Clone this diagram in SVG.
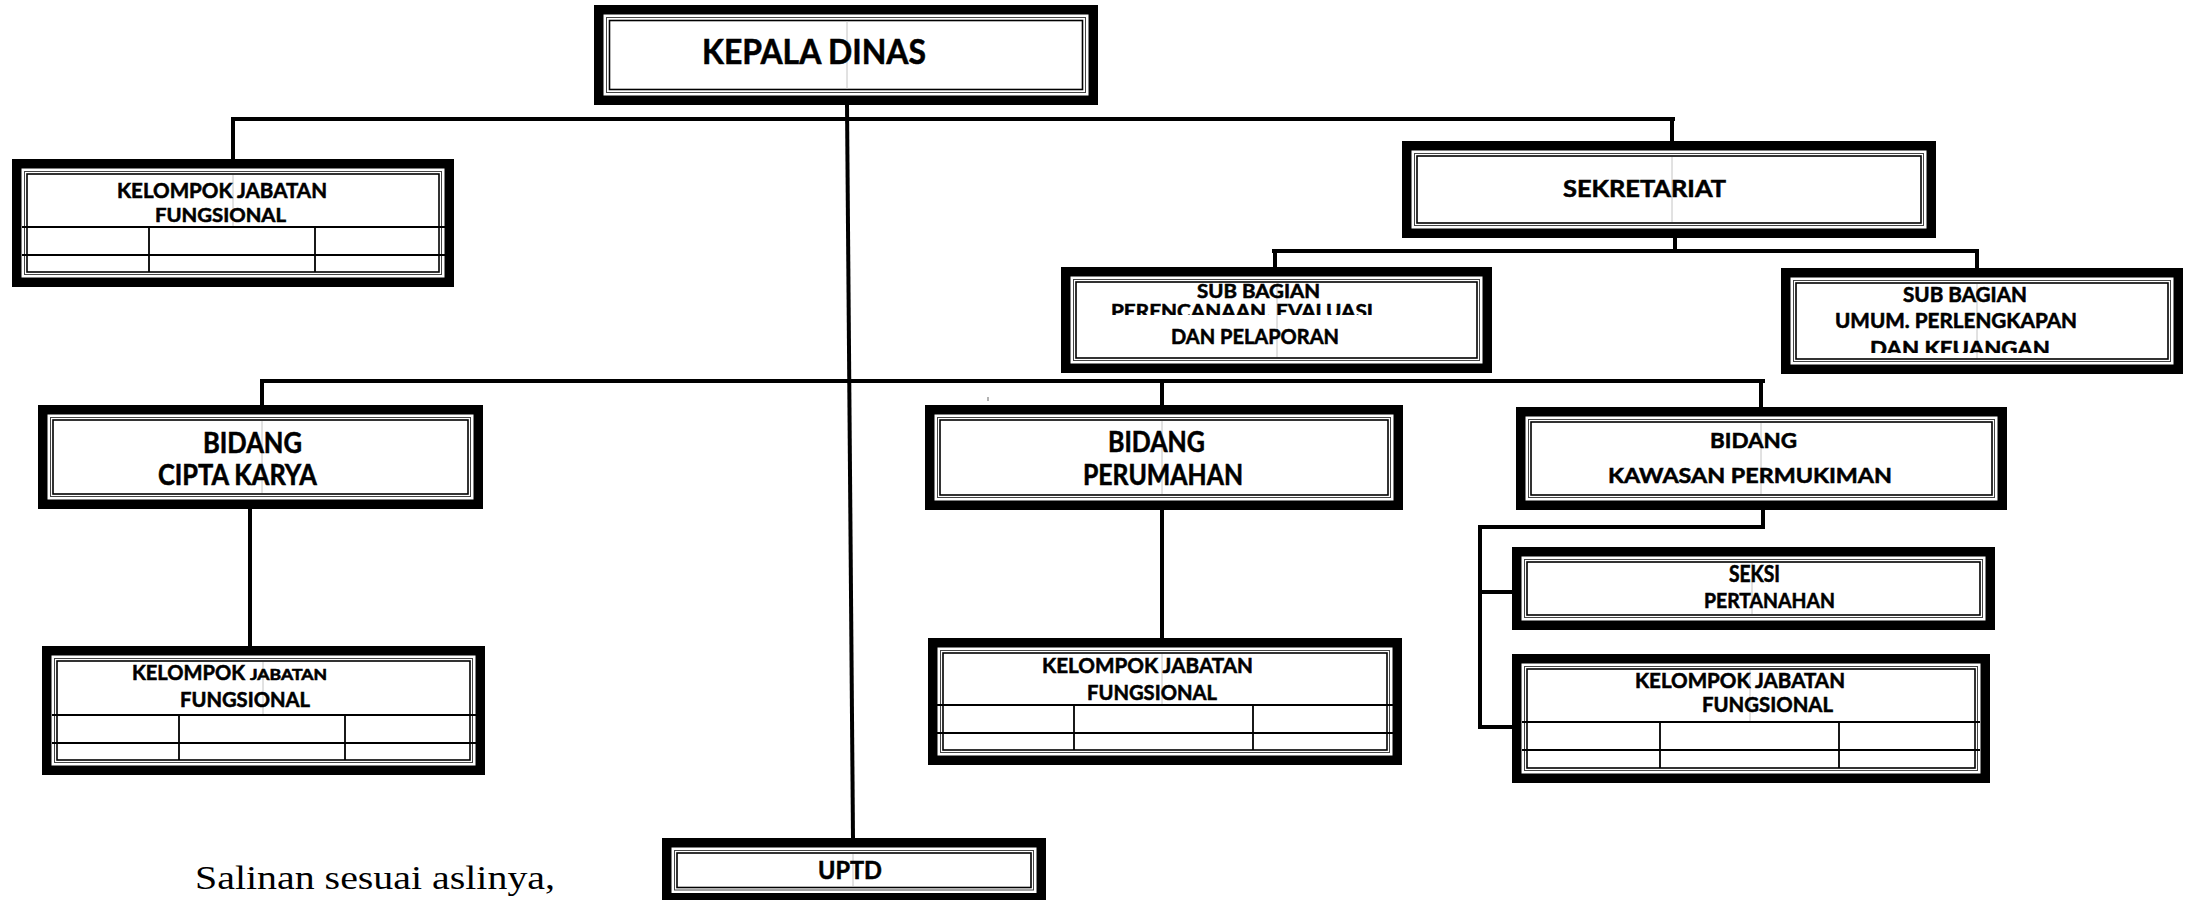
<svg xmlns="http://www.w3.org/2000/svg" width="2186" height="900" viewBox="0 0 2186 900">
<style>
.outer{fill:#fff;stroke:#000;stroke-width:9.5}
.in1{fill:none;stroke:#444;stroke-width:1}
.in2{fill:none;stroke:#000;stroke-width:1.6}
.seam{stroke:#c4c4c4;stroke-width:1}
.tbl{stroke:#000;stroke-width:1.8}
.con{stroke:#000;stroke-width:4;fill:none}
.t{font-family:Lato,"Open Sans","Liberation Sans",sans-serif;font-weight:bold;fill:#000;stroke:#000;stroke-width:0.55;text-anchor:middle}
.s{font-family:"Liberation Serif","DejaVu Serif",serif;fill:#000}
</style>
<defs>
<clipPath id="clipPeren"><rect x="1061" y="267" width="431" height="48"/></clipPath>
<clipPath id="clipUmum"><rect x="1781" y="268" width="402" height="85"/></clipPath>
</defs>
<rect width="2186" height="900" fill="#fff"/>

<g id="connectors">
<line class="con" x1="231" y1="119" x2="1675" y2="119"/>
<line class="con" x1="233" y1="117" x2="233" y2="160" />
<line class="con" x1="1672" y1="117" x2="1672" y2="142"/>
<line class="con" x1="1675" y1="237" x2="1675" y2="252"/>
<line class="con" x1="1272" y1="251" x2="1979" y2="251"/>
<line class="con" x1="1275" y1="249" x2="1275" y2="268"/>
<line class="con" x1="1977" y1="249" x2="1977" y2="269"/>
<line class="con" x1="260" y1="381" x2="1765" y2="381"/>
<line class="con" x1="262" y1="379" x2="262" y2="406"/>
<line class="con" x1="1162" y1="379" x2="1162" y2="406"/>
<line class="con" x1="1761" y1="379" x2="1761" y2="408"/>
<line class="con" x1="847" y1="104" x2="853" y2="839" stroke-width="3.5"/>
<line class="con" x1="250" y1="508" x2="250" y2="647"/>
<line class="con" x1="1162" y1="509" x2="1162" y2="639"/>
<polyline class="con" points="1763,509 1763,527 1480,527 1480,727 1513,727"/>
<line class="con" x1="1480" y1="592" x2="1513" y2="592"/>
<line x1="988" y1="397" x2="988" y2="401" stroke="#999" stroke-width="1.5"/>
</g>

<g id="kepala-dinas">
<rect class="outer" x="598.75" y="9.75" width="494.5" height="90.5"/>
<rect class="in1" x="606.5" y="17.5" width="479" height="75"/>
<rect class="in2" x="609.5" y="20.5" width="473" height="69"/>
<line class="seam" x1="847" y1="21" x2="847" y2="89"/>
<text class="t" x="814" y="64" font-size="35" textLength="224" lengthAdjust="spacingAndGlyphs">KEPALA DINAS</text>
</g>

<g id="kjf-1">
<rect class="outer" x="16.75" y="163.75" width="432.5" height="118.5"/>
<rect class="in1" x="24.5" y="171.5" width="417" height="103"/>
<rect class="in2" x="27" y="174" width="412" height="98"/>
<line class="seam" x1="233" y1="175" x2="233" y2="227"/>
<line class="tbl" x1="22" y1="227" x2="446" y2="227"/>
<line class="tbl" x1="22" y1="255" x2="446" y2="255"/>
<line class="tbl" x1="149" y1="227" x2="149" y2="272"/>
<line class="tbl" x1="315" y1="227" x2="315" y2="272"/>
<text class="t" x="222" y="198" font-size="21" textLength="210" lengthAdjust="spacingAndGlyphs">KELOMPOK JABATAN</text>
<text class="t" x="220.5" y="222" font-size="19.5" textLength="131" lengthAdjust="spacingAndGlyphs">FUNGSIONAL</text>
</g>

<g id="sekretariat">
<rect class="outer" x="1406.75" y="145.75" width="524.5" height="87.5"/>
<rect class="in1" x="1414.5" y="153.5" width="509" height="72"/>
<rect class="in2" x="1417" y="156" width="504" height="67"/>
<line class="seam" x1="1672" y1="157" x2="1672" y2="222"/>
<text class="t" x="1644.5" y="197" font-size="23.5" textLength="163" lengthAdjust="spacingAndGlyphs">SEKRETARIAT</text>
</g>

<g id="sub-bagian-perencanaan">
<rect class="outer" x="1065.75" y="271.75" width="421.5" height="96.5"/>
<rect class="in1" x="1073.5" y="279.5" width="406" height="81"/>
<rect class="in2" x="1076" y="282" width="401" height="76"/>
<line class="seam" x1="1277" y1="283" x2="1277" y2="357"/>
<text class="t" x="1258.5" y="298" font-size="19" textLength="123" lengthAdjust="spacingAndGlyphs">SUB BAGIAN</text>
<text class="t" x="1242" y="318" font-size="19" textLength="262" lengthAdjust="spacingAndGlyphs" clip-path="url(#clipPeren)">PERENCANAAN. EVALUASI</text>
<text class="t" x="1255" y="344" font-size="21" textLength="168" lengthAdjust="spacingAndGlyphs">DAN PELAPORAN</text>
</g>

<g id="sub-bagian-umum">
<rect class="outer" x="1785.75" y="272.75" width="392.5" height="96.5"/>
<rect class="in1" x="1793.5" y="280.5" width="377" height="81"/>
<rect class="in2" x="1796" y="283" width="372" height="76"/>
<line class="seam" x1="1977" y1="284" x2="1977" y2="358"/>
<text class="t" x="1965" y="302" font-size="20" textLength="124" lengthAdjust="spacingAndGlyphs">SUB BAGIAN</text>
<text class="t" x="1956" y="328" font-size="20" textLength="242" lengthAdjust="spacingAndGlyphs">UMUM. PERLENGKAPAN</text>
<text class="t" x="1960" y="355.5" font-size="20" textLength="180" lengthAdjust="spacingAndGlyphs" clip-path="url(#clipUmum)">DAN KEUANGAN</text>
</g>

<g id="bidang-cipta-karya">
<rect class="outer" x="42.75" y="409.75" width="435.5" height="94.5"/>
<rect class="in1" x="50.5" y="417.5" width="420" height="79"/>
<rect class="in2" x="53" y="420" width="415" height="74"/>
<line class="seam" x1="262" y1="421" x2="262" y2="493"/>
<text class="t" x="252.5" y="453" font-size="28" textLength="99" lengthAdjust="spacingAndGlyphs">BIDANG</text>
<text class="t" x="237.5" y="485" font-size="28" textLength="159" lengthAdjust="spacingAndGlyphs">CIPTA KARYA</text>
</g>

<g id="bidang-perumahan">
<rect class="outer" x="929.75" y="409.75" width="468.5" height="95.5"/>
<rect class="in1" x="937.5" y="417.5" width="453" height="80"/>
<rect class="in2" x="940" y="420" width="448" height="75"/>
<line class="seam" x1="1162" y1="421" x2="1162" y2="494"/>
<text class="t" x="1156.5" y="452" font-size="28" textLength="97" lengthAdjust="spacingAndGlyphs">BIDANG</text>
<text class="t" x="1163" y="485" font-size="28" textLength="160" lengthAdjust="spacingAndGlyphs">PERUMAHAN</text>
</g>

<g id="bidang-kawasan-permukiman">
<rect class="outer" x="1520.75" y="411.75" width="481.5" height="93.5"/>
<rect class="in1" x="1528.5" y="419.5" width="466" height="78"/>
<rect class="in2" x="1531" y="422" width="461" height="73"/>
<line class="seam" x1="1761" y1="423" x2="1761" y2="494"/>
<text class="t" x="1753.5" y="448" font-size="21.5" textLength="87" lengthAdjust="spacingAndGlyphs">BIDANG</text>
<text class="t" x="1750" y="483" font-size="21.5" textLength="284" lengthAdjust="spacingAndGlyphs">KAWASAN PERMUKIMAN</text>
</g>

<g id="seksi-pertanahan">
<rect class="outer" x="1516.75" y="551.75" width="473.5" height="73.5"/>
<rect class="in1" x="1524.5" y="559.5" width="458" height="58"/>
<rect class="in2" x="1527" y="562" width="453" height="53"/>
<line class="seam" x1="1752" y1="563" x2="1752" y2="614"/>
<text class="t" x="1754.5" y="582" font-size="22" textLength="51" lengthAdjust="spacingAndGlyphs">SEKSI</text>
<text class="t" x="1769.5" y="608" font-size="21" textLength="131" lengthAdjust="spacingAndGlyphs">PERTANAHAN</text>
</g>

<g id="kjf-2">
<rect class="outer" x="46.75" y="650.75" width="433.5" height="119.5"/>
<rect class="in1" x="54.5" y="658.5" width="418" height="104"/>
<rect class="in2" x="57" y="661" width="413" height="99"/>
<line class="seam" x1="263" y1="662" x2="263" y2="715"/>
<line class="tbl" x1="52" y1="715" x2="477" y2="715"/>
<line class="tbl" x1="52" y1="743" x2="477" y2="743"/>
<line class="tbl" x1="179" y1="715" x2="179" y2="760"/>
<line class="tbl" x1="345" y1="715" x2="345" y2="760"/>
<text class="t" x="188.5" y="680" font-size="21" textLength="113" lengthAdjust="spacingAndGlyphs">KELOMPOK</text>
<text class="t" x="288.5" y="680" font-size="14.5" textLength="77" lengthAdjust="spacingAndGlyphs">JABATAN</text>
<text class="t" x="245" y="707" font-size="20" textLength="130" lengthAdjust="spacingAndGlyphs">FUNGSIONAL</text>
</g>

<g id="kjf-3">
<rect class="outer" x="932.75" y="642.75" width="464.5" height="117.5"/>
<rect class="in1" x="940.5" y="650.5" width="449" height="102"/>
<rect class="in2" x="943" y="653" width="444" height="97"/>
<line class="seam" x1="1162" y1="654" x2="1162" y2="705"/>
<line class="tbl" x1="937" y1="705" x2="1393" y2="705"/>
<line class="tbl" x1="937" y1="733" x2="1393" y2="733"/>
<line class="tbl" x1="1074" y1="705" x2="1074" y2="750"/>
<line class="tbl" x1="1253" y1="705" x2="1253" y2="750"/>
<text class="t" x="1147.5" y="673" font-size="21" textLength="211" lengthAdjust="spacingAndGlyphs">KELOMPOK JABATAN</text>
<text class="t" x="1152" y="700" font-size="21" textLength="130" lengthAdjust="spacingAndGlyphs">FUNGSIONAL</text>
</g>

<g id="kjf-4">
<rect class="outer" x="1516.75" y="658.75" width="468.5" height="119.5"/>
<rect class="in1" x="1524.5" y="666.5" width="453" height="104"/>
<rect class="in2" x="1527" y="669" width="448" height="99"/>
<line class="seam" x1="1750" y1="670" x2="1750" y2="722"/>
<line class="tbl" x1="1522" y1="722" x2="1980" y2="722"/>
<line class="tbl" x1="1522" y1="750" x2="1980" y2="750"/>
<line class="tbl" x1="1660" y1="722" x2="1660" y2="768"/>
<line class="tbl" x1="1839" y1="722" x2="1839" y2="768"/>
<text class="t" x="1740" y="688" font-size="21" textLength="210" lengthAdjust="spacingAndGlyphs">KELOMPOK JABATAN</text>
<text class="t" x="1767.5" y="712" font-size="21" textLength="131" lengthAdjust="spacingAndGlyphs">FUNGSIONAL</text>
</g>

<g id="uptd">
<rect class="outer" x="666.75" y="842.75" width="374.5" height="55"/>
<rect class="in1" x="674.5" y="850.5" width="359" height="39.5"/>
<rect class="in2" x="677" y="853" width="354" height="34.5"/>
<line class="seam" x1="853" y1="854" x2="853" y2="886"/>
<text class="t" x="850" y="879" font-size="25" textLength="64" lengthAdjust="spacingAndGlyphs">UPTD</text>
</g>

<text class="s" x="195" y="889" font-size="33" textLength="360" lengthAdjust="spacingAndGlyphs">Salinan sesuai aslinya,</text>
</svg>
